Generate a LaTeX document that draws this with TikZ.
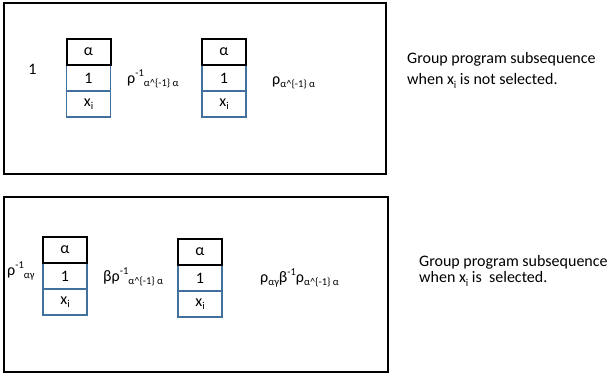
\documentclass[tikz,border=0pt]{standalone}
\usepackage{fontspec}
\setmainfont{Carlito}
\usepackage{tikz}

\definecolor{cellblue}{HTML}{41719C}
\newcommand{\grsup}[1]{\raisebox{6.5pt}{\fontsize{10.5}{12}\selectfont #1}}
\newcommand{\grsub}[1]{\raisebox{-3.5pt}{\fontsize{10.5}{12}\selectfont #1}}

\begin{document}
\begin{tikzpicture}[x=1pt,y=-1pt,
	frame/.style={draw=black,line width=1.8pt},
	cell/.style={draw=cellblue,line width=1.4pt,minimum width=44pt,minimum height=26pt,inner sep=0pt,font=\fontsize{16}{18}\selectfont},
	topcell/.style={cell,draw=black,line width=2pt},
	lbl/.style={inner sep=0pt,font=\fontsize{16}{18}\selectfont}]
	\useasboundingbox (0,0) rectangle (613,375);

	% outer frames
	\draw[frame] (4,3) rectangle (386,174);
	\draw[frame] (4,197) rectangle (388,372);

	% x_i not selected
	\node[cell] (u1) at (88.5,78)  {1};
	\node[cell] (x1) at (88.5,104) {x\grsub{i}};
	\node[topcell] (a1) at (88.5,52) {α};
	\node[cell] (u2) at (224,78)  {1};
	\node[cell] (x2) at (224,104) {x\grsub{i}};
	\node[topcell] (a2) at (224,52) {α};

	\node[lbl,anchor=base] (one) at (32.5,74) {1};
	\node[lbl,anchor=base west] (r1) at (127,83) {ρ\grsup{-1}\grsub{α\^{}\{-1\} α}};
	\node[lbl,anchor=base west] (r2) at (272,84) {ρ\grsub{α\^{}\{-1\} α}};

	% x_i selected
	\node[cell] (u3) at (65,276) {1};
	\node[cell] (x3) at (65,302) {x\grsub{i}};
	\node[topcell] (a3) at (65,250) {α};
	\node[cell] (u4) at (200,278) {1};
	\node[cell] (x4) at (200,304) {x\grsub{i}};
	\node[topcell] (a4) at (200,252) {α};

	\node[lbl,anchor=base west] (r3) at (7,275) {ρ\grsup{-1}\grsub{αγ}};
	\node[lbl,anchor=base west] (r4) at (103,281) {βρ\grsup{-1}\grsub{α\^{}\{-1\} α}};
	\node[lbl,anchor=base west] (r5) at (260,282) {ρ\grsub{αγ}β\grsup{-1}ρ\grsub{α\^{}\{-1\} α}};

	% captions (base = last line)
	\node[lbl,anchor=base west,align=left,font=\fontsize{16}{21}\selectfont] (c1) at (407,84.5)
		{Group program subsequence\\when x\grsub{i} is not selected.};
	\node[lbl,anchor=base west,align=left,font=\fontsize{16}{16.5}\selectfont] (c2) at (419,282.5)
		{Group program subsequence\\when x\grsub{i} is \ selected.};
\end{tikzpicture}
\end{document}
